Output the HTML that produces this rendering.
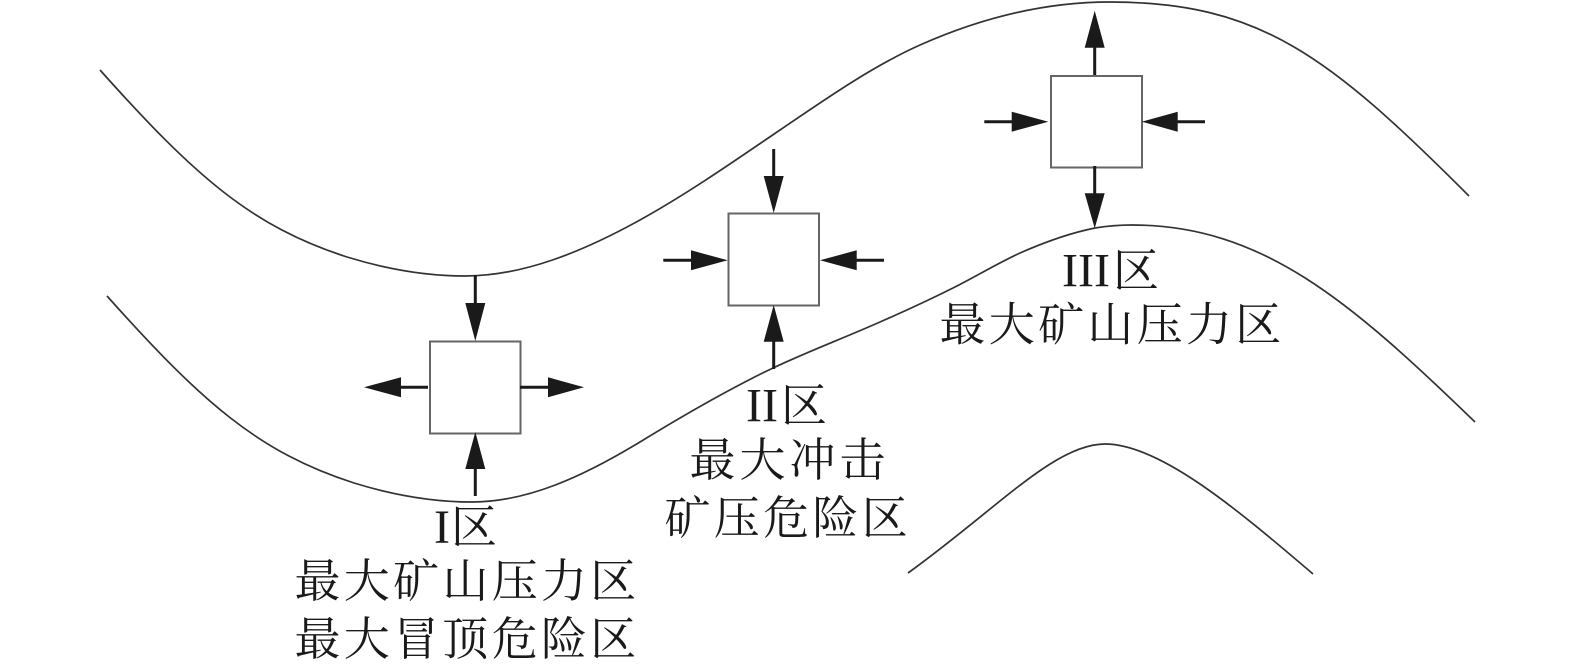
<!DOCTYPE html>
<html><head><meta charset="utf-8"><style>
html,body{margin:0;padding:0;background:#fff}
svg{display:block}
text{font-family:"Liberation Serif","Noto Serif CJK SC",serif;font-size:46px;fill:#1a1a1a;letter-spacing:3.3px}
text.l{font-size:48px;letter-spacing:0}
</style></head><body>
<svg width="1575" height="669" viewBox="0 0 1575 669" xmlns="http://www.w3.org/2000/svg">
<g fill="none" stroke="#333" stroke-width="1.7">
<path d="M100 70C195 176.4 252 226.6 347 257C386 269 426 276 465 276C523 276 582 252 640 220C687 194 733 162 780 130C827 98 873 66 920 45C983 17 1047 2 1110 2C1260 2 1329 56 1469 196"/>
<path d="M107 296C202 402.4 259 452.6 354 483C393 495 433 502 472 502C528 502 584 476 640 442C684 415 729 389 773 368C809 351 844 338 880 322C904 311.5 929 300 953 288C975 277 998 263 1020 253C1045 242 1070 233 1095 228C1107 226 1120 225 1132 225C1262 225 1350 301 1475 422"/>
<path d="M908 573C998 508 1055 444 1105 444C1160 444 1238 510 1313 574"/>
</g>
<g fill="none" stroke="#666" stroke-width="2">
<rect x="430" y="341.5" width="90.5" height="92"/>
<rect x="728.5" y="213.5" width="90.5" height="92"/>
<rect x="1051" y="76" width="91" height="91.5"/>
</g>
<g stroke="#1a1a1a" stroke-width="3" fill="none">
<path d="M475.3 275V305M475.3 496V467M428 387.3H399M520 387.3H550"/>
<path d="M773.7 149V178M773.7 369V340M663.3 260.3H693M884 260.3H855"/>
<path d="M1094.7 75V46M1094.7 166V195M984.3 121.7H1013M1205 121.7H1176"/>
</g>
<g fill="#1a1a1a">
<path d="M465.3 303H485.3L475.3 341ZM465.3 469H485.3L475.3 432ZM401 377.3V397.3L364 387.3ZM548 377.3V397.3L584 387.3Z"/>
<path d="M763.7 176H783.7L773.7 213ZM763.7 341.7H783.7L773.7 305ZM691 250.3V270.3L727.7 260.3ZM856.7 250.3V270.3L820 260.3Z"/>
<path d="M1084.7 47.7H1104.7L1094.7 10.7ZM1084.7 193.3H1104.7L1094.7 228.3ZM1011.7 111.7V131.7L1048.3 121.7ZM1177.7 111.7V131.7L1141.7 121.7Z"/>
</g>
<text class="l" x="434" y="543">I</text><text x="451" y="543">区</text>
<text x="294.5" y="597">最大矿山压力区</text>
<text x="294.5" y="655">最大冒顶危险区</text>
<text class="l" x="746" y="421.5">II</text><text x="781" y="421.5">区</text>
<text x="689.5" y="476" style="letter-spacing:4px">最大冲击</text>
<text x="664.5" y="534">矿压危险区</text>
<text class="l" x="1062" y="286.5">III</text><text x="1113" y="286.5">区</text>
<text x="939.5" y="340.5">最大矿山压力区</text>
</svg>
</body></html>
